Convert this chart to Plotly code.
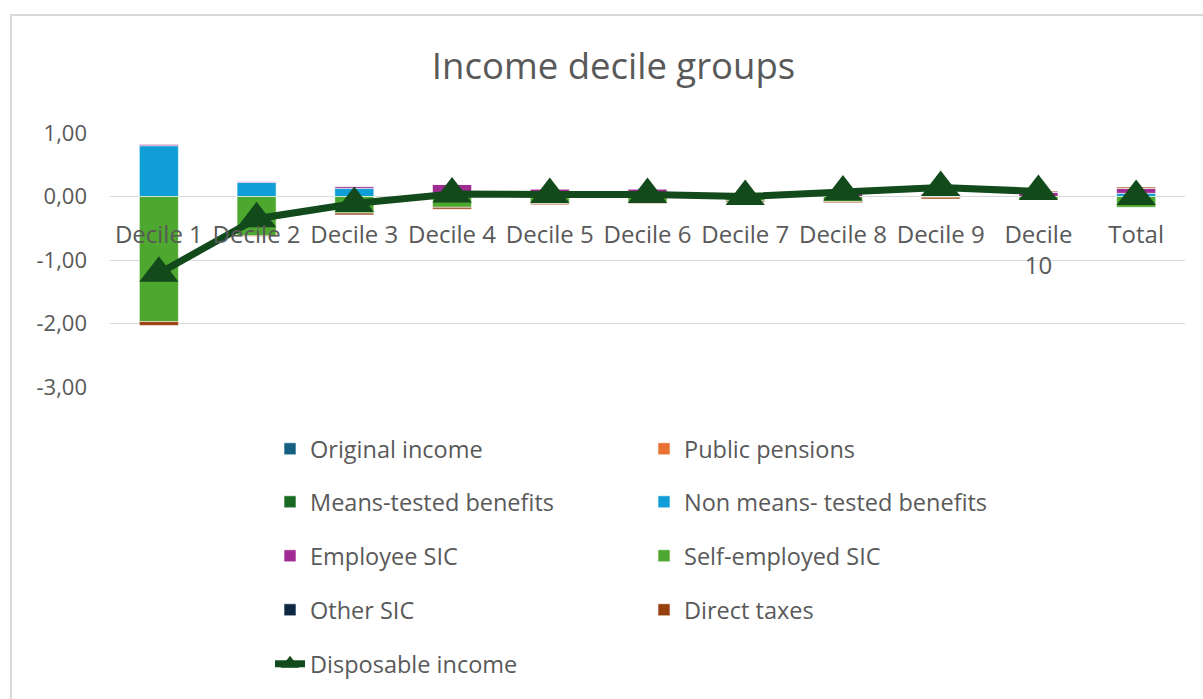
import plotly.graph_objects as go

categories = ["Decile 1", "Decile 2", "Decile 3", "Decile 4", "Decile 5", "Decile 6",
              "Decile 7", "Decile 8", "Decile 9", "Decile 10", "Total"]
tick_labels = ["Decile 1", "Decile 2", "Decile 3", "Decile 4", "Decile 5", "Decile 6",
               "Decile 7", "Decile 8", "Decile 9", "Decile<br>10", "Total"]
y_tick_values = [1, 0, -1, -2, -3]
y_tick_labels = ["1,00", "0,00", "-1,00", "-2,00", "-3,00"]

original_income = [0, 0, 0, 0, 0, 0, 0, 0, 0, 0, 0]
public_pensions = [0, 0, 0, 0, 0, 0, 0, 0, 0, 0, 0]
means_tested = [0, 0, 0, 0, 0, 0, 0, 0, 0, 0, 0]
non_means_tested = [0.80, 0.22, 0.13, 0.02, 0.01, 0.01, 0.00, 0.00, 0.00, 0.00, 0.05]
employee_sic = [0.025, 0.02, 0.03, 0.17, 0.11, 0.11, 0.02, 0.10, 0.04, 0.07, 0.08]
self_employed_sic = [-1.97, -0.62, -0.26, -0.17, -0.11, -0.09, -0.07, -0.08, -0.01, -0.05, -0.17]
other_sic = [0, 0, 0, 0, 0, 0, 0, 0, 0, 0, 0]
direct_taxes = [-0.06, -0.01, -0.03, -0.03, -0.02, -0.02, -0.02, -0.02, -0.03, 0.015, 0.02]
disposable_income = [-1.21, -0.35, -0.11, 0.04, 0.03, 0.03, 0.00, 0.07, 0.14, 0.08, 0.00]

series_names = ["Original income", "Public pensions", "Means-tested benefits",
                "Non means- tested benefits", "Employee SIC", "Self-employed SIC",
                "Other SIC", "Direct taxes"]
series_values = [original_income, public_pensions, means_tested, non_means_tested,
                 employee_sic, self_employed_sic, other_sic, direct_taxes]
series_colors = ["#156082", "#E97132", "#196B24", "#0F9ED5",
                 "#A02B93", "#4EA72E", "#0E2841", "#97400F"]

TEXT = "#595959"
GRID = "#D9D9D9"
FONT = "Open Sans"

# pixel layout helpers
W, H = 1203, 699
L, R, T, B = 110, 1185, 133, 387
pw, ph = R - L, B - T

def px_x(x):
    return (x - L) / pw

def px_y(y):
    return (B - y) / ph

fig = go.Figure()

legend_ids = ["legend", "legend2", "legend3", "legend4", "legend5"]

for i, (name, vals, col) in enumerate(zip(series_names, series_values, series_colors)):
    fig.add_trace(go.Bar(
        x=categories, y=vals, name=name,
        marker=dict(color=col, line=dict(color="white", width=0.6)),
        legend=legend_ids[i // 2],
    ))

line_x = categories[:10] + [None] + categories[10:]
line_y = disposable_income[:10] + [None] + disposable_income[10:]
fig.add_trace(go.Scatter(
    x=line_x, y=line_y, name="Disposable income",
    mode="lines+markers", connectgaps=False,
    line=dict(color="#124A1C", width=7),
    marker=dict(symbol="triangle-up", size=34, color="#124A1C"),
    legend="legend5",
))

row_centers = [449, 502, 556, 610, 664]
legend_common = dict(
    orientation="h", xanchor="left", yanchor="middle",
    x=px_x(270), entrywidth=329, entrywidthmode="pixels",
    font=dict(family=FONT, size=23.5, color=TEXT),
    bgcolor="rgba(0,0,0,0)", traceorder="normal",
)
legend_layout = {}
for lid, yc in zip(legend_ids, row_centers):
    legend_layout[lid] = dict(legend_common, y=px_y(yc))

fig.update_layout(
    width=W, height=H,
    margin=dict(l=L, r=W - R, t=T, b=H - B, autoexpand=False),
    paper_bgcolor="white", plot_bgcolor="white",
    barmode="relative", bargap=0.6,
    separators=",.",
    font=dict(family=FONT, color=TEXT),
    title=dict(text="Income decile groups", x=0.51, xref="container", xanchor="center",
               y=1 - 66 / H, yref="container", yanchor="middle",
               font=dict(family=FONT, size=36.5, color=TEXT)),
    xaxis=dict(type="category", categoryorder="array", categoryarray=categories,
               range=[-0.5, len(categories) - 0.5],
               tickvals=categories, ticktext=tick_labels,
               anchor="free", position=0.75, showgrid=False, showline=False,
               zeroline=False, ticks="", ticklabelstandoff=21,
               tickfont=dict(family=FONT, size=24, color=TEXT)),
    yaxis=dict(range=[-3, 1], tickvals=y_tick_values, ticktext=y_tick_labels,
               showgrid=True,
               gridcolor=GRID, gridwidth=1.3, zeroline=True, zerolinecolor=GRID,
               zerolinewidth=1.3, showline=False, ticks="", ticklabelstandoff=22,
               tickfont=dict(family=FONT, size=22, color=TEXT)),
    showlegend=True,
    shapes=[dict(type="rect", xref="paper", yref="paper",
                 x0=px_x(11), x1=px_x(1215), y0=px_y(715), y1=px_y(15),
                 line=dict(color=GRID, width=2), fillcolor="rgba(0,0,0,0)",
                 layer="below")],
    **legend_layout,
)

fig.write_html("out.html")
